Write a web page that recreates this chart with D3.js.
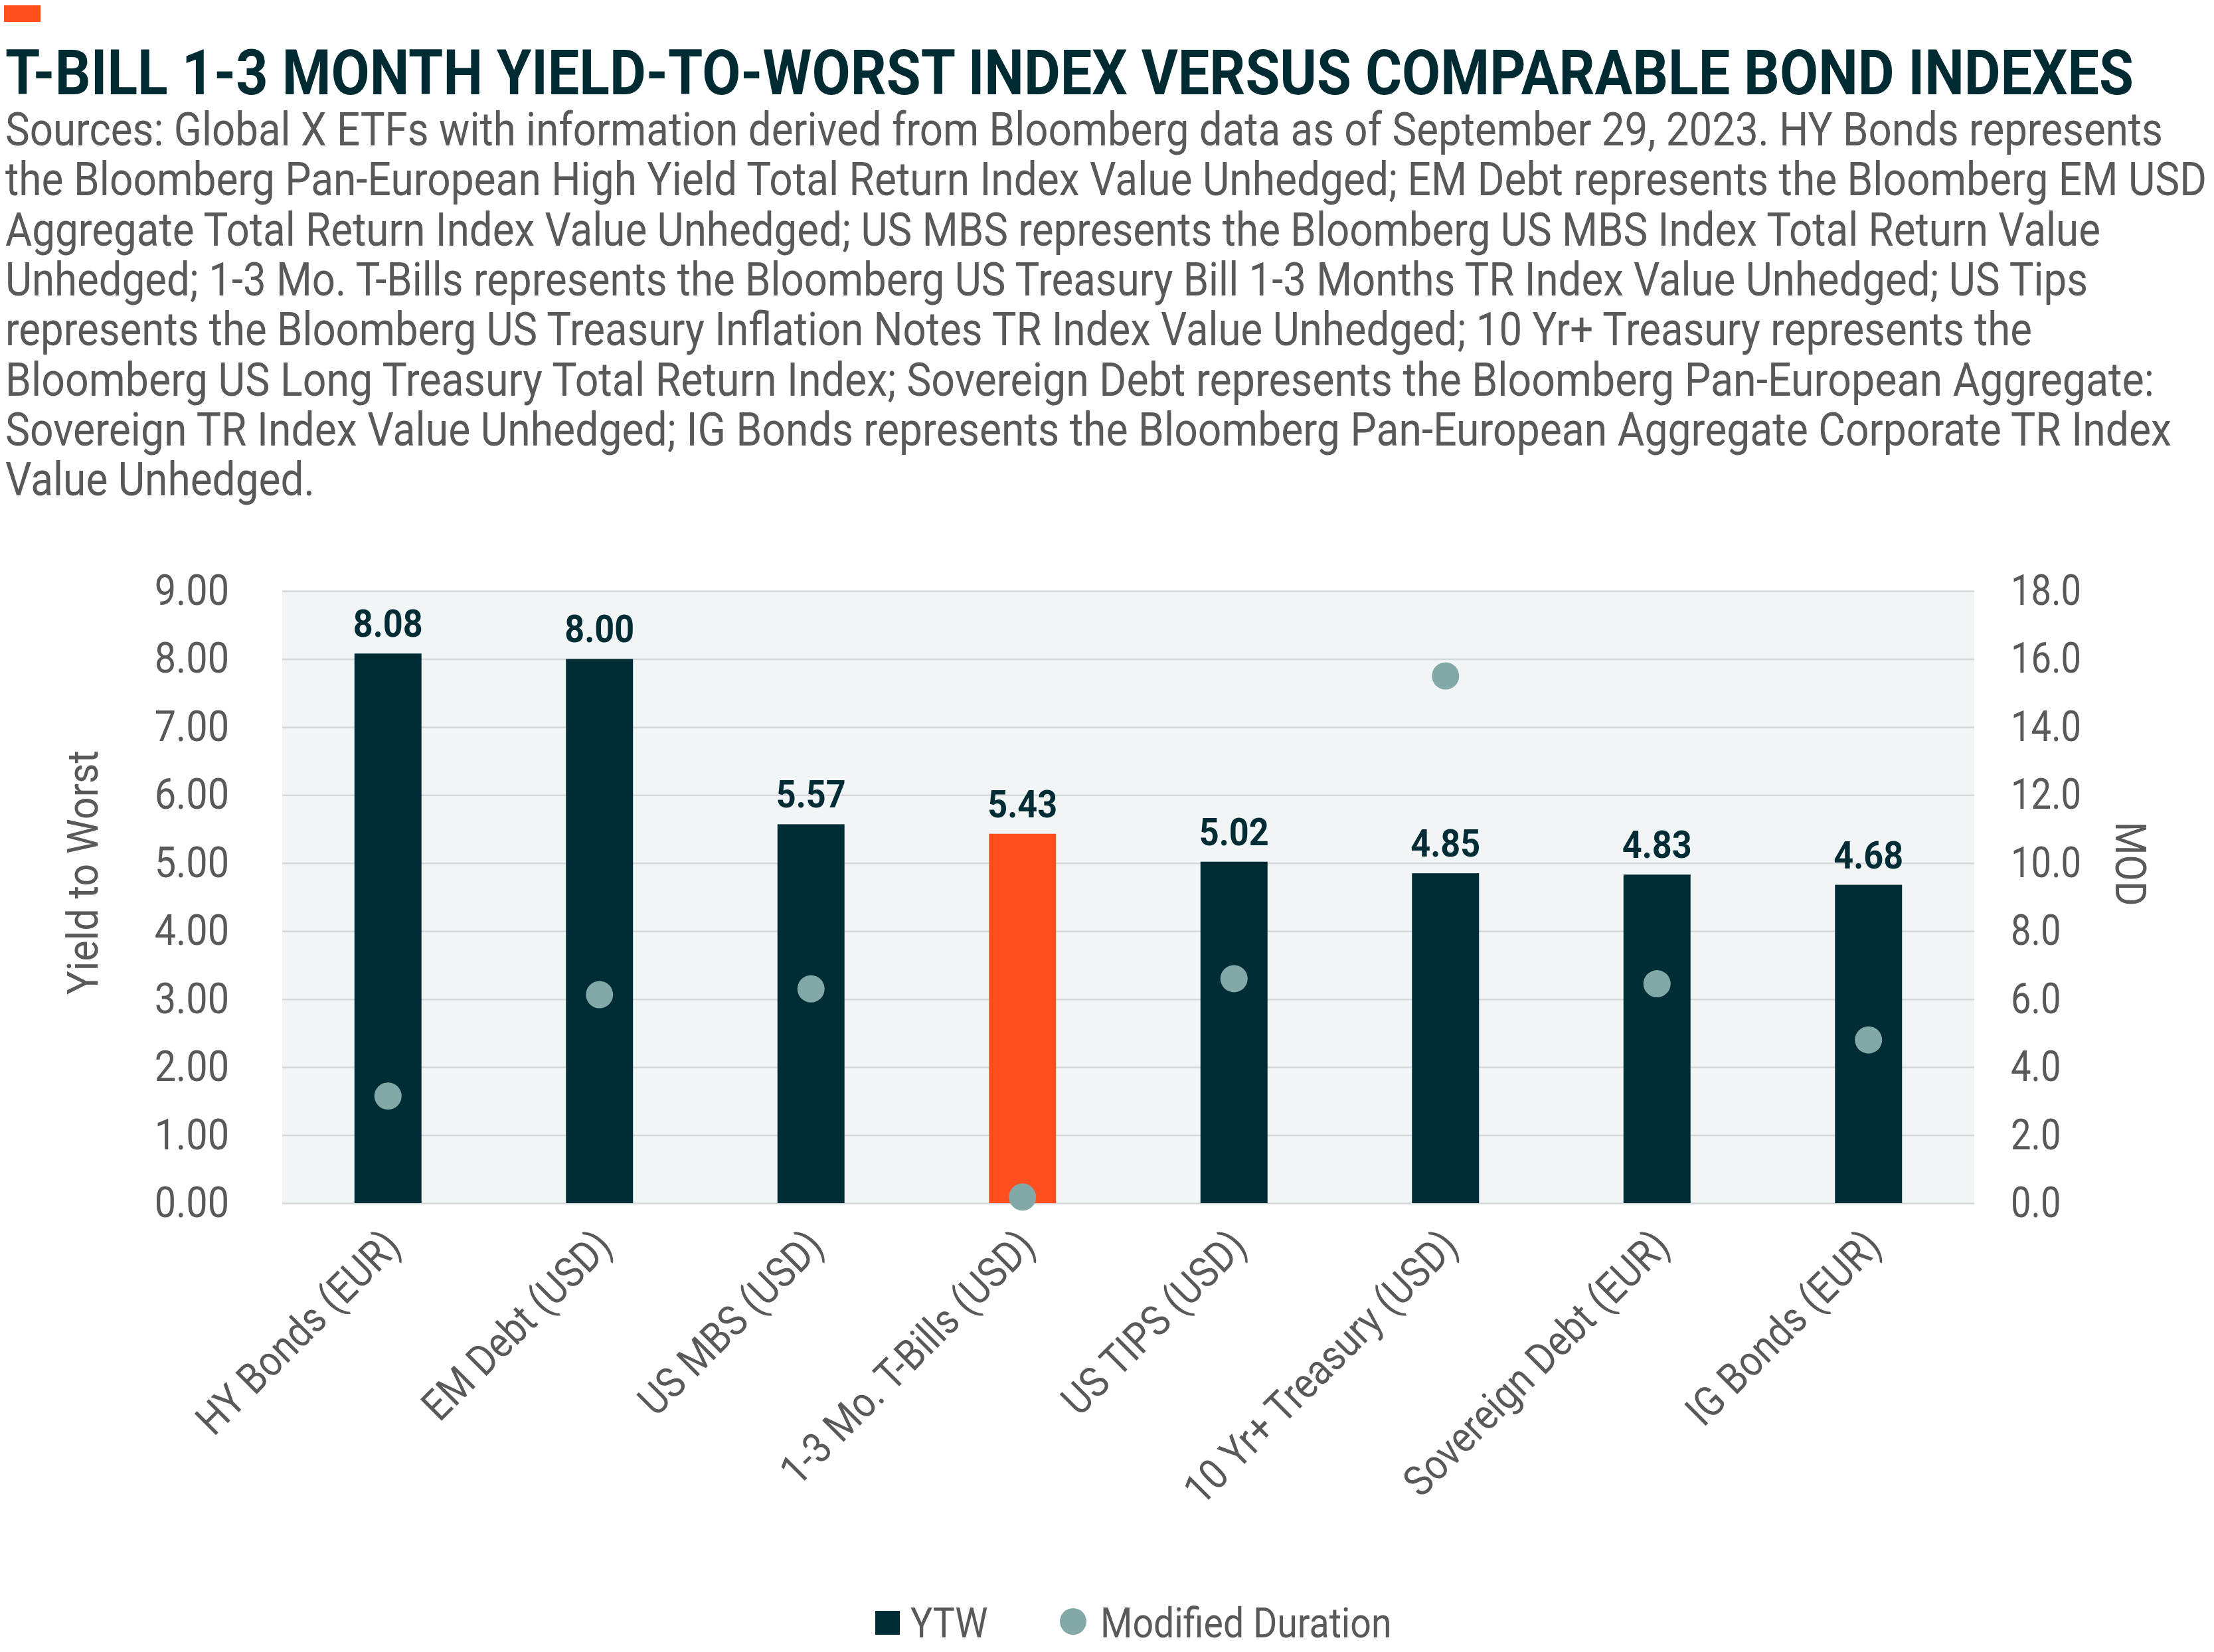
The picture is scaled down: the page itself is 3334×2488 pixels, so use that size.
<!DOCTYPE html>
<html>
<head>
<meta charset="utf-8">
<script src="https://cdn.jsdelivr.net/npm/d3@7"></script>
<style>
  body { margin: 0; background: #fff; }
  text { font-family: Roboto, "Noto Sans", sans-serif; }
</style>
</head>
<body>
<div id="chart"></div>
<script>
// data
const categories = ["HY Bonds (EUR)", "EM Debt (USD)", "US MBS (USD)", "1-3 Mo. T-Bills (USD)",
  "US TIPS (USD)", "10 Yr+ Treasury (USD)", "Sovereign Debt (EUR)", "IG Bonds (EUR)"];
const ytw = [8.08, 8.00, 5.57, 5.43, 5.02, 4.85, 4.83, 4.68];
const modDuration = [3.15, 6.13, 6.3, 0.18, 6.6, 15.5, 6.45, 4.8];
const highlighted = "1-3 Mo. T-Bills (USD)";
const ytwTicks = [0, 1, 2, 3, 4, 5, 6, 7, 8, 9];
const modTicks = [0, 2, 4, 6, 8, 10, 12, 14, 16, 18];
const seriesNames = ["YTW", "Modified Duration"];

const title = "T-BILL 1-3 MONTH YIELD-TO-WORST INDEX VERSUS COMPARABLE BOND INDEXES";
const sourceLines = [
  "Sources: Global X ETFs with information derived from Bloomberg data as of September 29, 2023. HY Bonds represents",
  "the Bloomberg Pan-European High Yield Total Return Index Value Unhedged; EM Debt represents the Bloomberg EM USD",
  "Aggregate Total Return Index Value Unhedged; US MBS represents the Bloomberg US MBS Index Total Return Value",
  "Unhedged; 1-3 Mo. T-Bills represents the Bloomberg US Treasury Bill 1-3 Months TR Index Value Unhedged; US Tips",
  "represents the Bloomberg US Treasury Inflation Notes TR Index Value Unhedged; 10 Yr+ Treasury represents the",
  "Bloomberg US Long Treasury Total Return Index; Sovereign Debt represents the Bloomberg Pan-European Aggregate:",
  "Sovereign TR Index Value Unhedged; IG Bonds represents the Bloomberg Pan-European Aggregate Corporate TR Index",
  "Value Unhedged."
];

// layout
const width = 3334, height = 2488;
const marginTop = 890, marginRight = 361, marginBottom = 676, marginLeft = 425;
const lineRight = [3257, 3323, 3163, 3144, 3060, 3244, 3270, 474]; // right edge of each source line
const dark = "#002d35", orange = "#ff4f1e", dot = "#82a8a7", grey = "#595959";

// Roboto is wider than the condensed face of the original, squeeze it a bit
function squeeze(sel, k = 0.88) {
  sel.each(function() {
    const w = this.getComputedTextLength();
    d3.select(this).attr("textLength", w * k).attr("lengthAdjust", "spacingAndGlyphs");
  });
}

// long lines: shrink the font until it fits the wanted width, then stretch back up vertically
function fitLine(sel, x0, y0, size, targetW) {
  sel.each(function(d, i) {
    const t = d3.select(this).attr("x", 0).attr("y", 0).attr("font-size", size);
    const tw = typeof targetW === "function" ? targetW(d, i) : targetW;
    const s = Math.min(1, tw / this.getComputedTextLength());
    const yy = typeof y0 === "function" ? y0(d, i) : y0;
    t.attr("font-size", size * s)
      .attr("transform", `translate(${x0},${yy}) scale(1,${1 / s})`)
      .attr("textLength", tw)
      .attr("lengthAdjust", "spacingAndGlyphs");
  });
}

const svg = d3.select("#chart").append("svg")
  .attr("width", width)
  .attr("height", height)
  .attr("viewBox", [0, 0, width, height]);

svg.append("rect").attr("width", width).attr("height", height).attr("fill", "#fff");

// header
svg.append("rect").attr("x", 6).attr("y", 8).attr("width", 55).attr("height", 25).attr("fill", orange);

svg.append("text")
  .attr("font-weight", 700)
  .attr("fill", "#002b33")
  .text(title)
  .call(fitLine, 8, 142, 95, 3205);

svg.append("g").selectAll("text")
  .data(sourceLines)
  .join("text")
  .attr("fill", grey)
  .text(d => d)
  .call(fitLine, 8, (d, i) => 219 + i * 75.3, 71, (d, i) => lineRight[i] - 8);

// scales
const x = d3.scaleBand()
  .domain(categories)
  .range([marginLeft, width - marginRight])
  .paddingInner(0.683)
  .paddingOuter(0.3415);

const y = d3.scaleLinear().domain([0, 9]).range([height - marginBottom, marginTop]);
const y2 = d3.scaleLinear().domain([0, 18]).range([height - marginBottom, marginTop]);

// plot background + grid
svg.append("rect")
  .attr("x", marginLeft).attr("y", marginTop)
  .attr("width", width - marginLeft - marginRight)
  .attr("height", height - marginTop - marginBottom)
  .attr("fill", "#f2f5f6");

svg.append("g")
  .attr("transform", `translate(${marginLeft},0)`)
  .call(d3.axisLeft(y).tickValues(ytwTicks).tickSize(-(width - marginLeft - marginRight)).tickFormat(""))
  .call(g => g.select(".domain").remove())
  .call(g => g.selectAll(".tick line").attr("stroke", "#d6d9db").attr("stroke-width", 2.5));

// left axis
svg.append("g")
  .attr("transform", `translate(${marginLeft},0)`)
  .call(d3.axisLeft(y).tickValues(ytwTicks).tickFormat(d3.format(".2f")).tickSize(0).tickPadding(80))
  .call(g => g.select(".domain").remove())
  .call(g => g.selectAll("text").attr("font-size", 64).attr("fill", grey).call(squeeze, 0.9));

// right axis
svg.append("g")
  .attr("transform", `translate(${width - marginRight},0)`)
  .call(d3.axisRight(y2).tickValues(modTicks).tickFormat(d3.format(".1f")).tickSize(0).tickPadding(55))
  .call(g => g.select(".domain").remove())
  .call(g => g.selectAll("text").attr("font-size", 64).attr("fill", grey).call(squeeze, 0.85));

// axis titles
svg.append("text")
  .attr("transform", "translate(147,1314) rotate(-90)")
  .attr("text-anchor", "middle")
  .attr("font-size", 64).attr("fill", grey)
  .attr("textLength", 368).attr("lengthAdjust", "spacingAndGlyphs")
  .text("Yield to Worst");

svg.append("text")
  .attr("transform", "translate(3186,1301) rotate(90)")
  .attr("text-anchor", "middle")
  .attr("font-size", 64).attr("fill", grey)
  .attr("textLength", 127).attr("lengthAdjust", "spacingAndGlyphs")
  .text("MOD");

// bars
const rows = categories.map((c, i) => ({cat: c, ytw: ytw[i], mod: modDuration[i]}));

svg.append("g").selectAll("rect")
  .data(rows)
  .join("rect")
  .attr("x", d => x(d.cat))
  .attr("y", d => y(d.ytw))
  .attr("width", x.bandwidth())
  .attr("height", d => y(0) - y(d.ytw))
  .attr("fill", d => d.cat === highlighted ? orange : dark);

svg.append("g").selectAll("text")
  .data(rows)
  .join("text")
  .attr("x", d => x(d.cat) + x.bandwidth() / 2)
  .attr("y", d => y(d.ytw) - 25)
  .attr("text-anchor", "middle")
  .attr("font-size", 58).attr("font-weight", 700)
  .attr("fill", dark)
  .text(d => d.ytw.toFixed(2))
  .call(squeeze, 0.9);

// modified duration dots
svg.append("g").selectAll("circle")
  .data(rows)
  .join("circle")
  .attr("cx", d => x(d.cat) + x.bandwidth() / 2)
  .attr("cy", d => y2(d.mod))
  .attr("r", 20.5)
  .attr("fill", dot);

// x axis labels
svg.append("g")
  .attr("transform", `translate(0,${height - marginBottom})`)
  .call(d3.axisBottom(x).tickSize(0))
  .call(g => g.select(".domain").remove())
  .call(g => g.selectAll("text")
    .attr("y", 0).attr("dy", null)
    .attr("text-anchor", "end")
    .attr("transform", "translate(22,68) rotate(-45)")
    .attr("font-size", 64).attr("fill", grey)
    .call(squeeze, 0.88));

// legend
const legend = svg.append("g");
legend.append("rect").attr("x", 1318).attr("y", 2426).attr("width", 37).attr("height", 36).attr("fill", dark);
legend.append("circle").attr("cx", 1616).attr("cy", 2442).attr("r", 20).attr("fill", dot);
legend.selectAll("text")
  .data(seriesNames)
  .join("text")
  .attr("x", (d, i) => [1371, 1657][i])
  .attr("y", 2466)
  .attr("font-size", 63).attr("fill", grey)
  .text(d => d)
  .call(squeeze, 0.88);
</script>
</body>
</html>
